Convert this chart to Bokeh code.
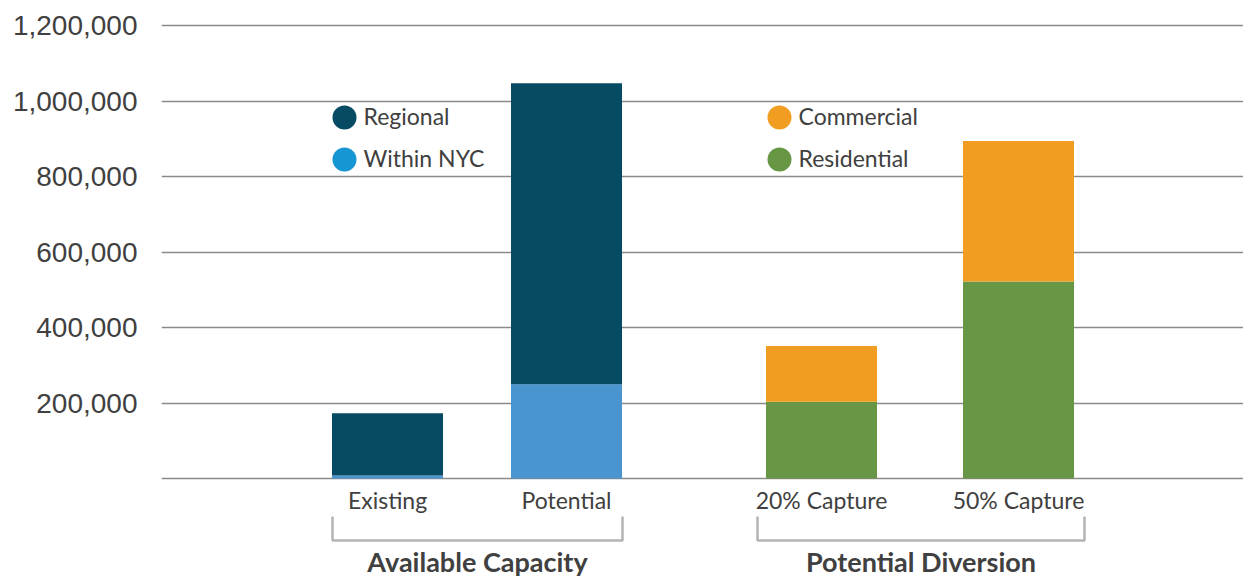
from bokeh.plotting import figure
from bokeh.models import Range1d, FixedTicker, NumeralTickFormatter
from bokeh.core.properties import value
from bokeh.embed import file_html
from bokeh.resources import INLINE

# ---- data ----
categories = ["Existing", "Potential", "20% Capture", "50% Capture"]
groups = ["Available Capacity", "Potential Diversion"]
within_nyc = [8000, 250000, 0, 0]
regional = [165000, 797000, 0, 0]
residential = [0, 0, 203000, 522000]
commercial = [0, 0, 148000, 372000]
y_ticks = [0, 200000, 400000, 600000, 800000, 1000000, 1200000]
leg_names = ["Regional", "Within NYC", "Commercial", "Residential"]

# ---- layout (x in picture-pixel units) ----
x_centers = [387, 566, 821, 1018]
bar_width = 111
bracket_spans = [(332, 622), (757, 1084)]

C_REG = "#064A63"
C_NYC_BAR = "#4A94D0"
C_NYC_LEG = "#1796D4"
C_COM = "#F09D22"
C_RES = "#679645"
TXT = "#404040"

W, H = 1243, 577
FRAME_LEFT = 161
px_per_unit = 377.5 / 1e6
zero_y_fig = 478
y_top = zero_y_fig / px_per_unit
y_bot = -(H - zero_y_fig) / px_per_unit

p = figure(width=W, height=H, output_backend="svg", toolbar_location=None,
           x_range=Range1d(FRAME_LEFT, W),
           y_range=Range1d(y_bot, y_top),
           min_border_left=FRAME_LEFT, min_border_right=0,
           min_border_top=0, min_border_bottom=0)
p.outline_line_color = None
p.xaxis.visible = False
p.xgrid.visible = False

ax = p.yaxis[0]
ax.ticker = FixedTicker(ticks=y_ticks)
ax.formatter = NumeralTickFormatter(format="0,0")
ax.major_label_overrides = {0: ""}
ax.axis_line_color = None
ax.major_tick_line_color = None
ax.minor_tick_line_color = None
ax.major_label_standoff = 18
ax.major_label_text_font = "Liberation Sans"
ax.major_label_text_font_size = "28px"
ax.major_label_text_color = TXT

p.ygrid.ticker = FixedTicker(ticks=y_ticks)
p.ygrid.grid_line_color = "#8a8a8a"
p.ygrid.grid_line_width = 1.5

# bars
p.vbar(x=x_centers[:2], width=bar_width, bottom=[0, 0], top=within_nyc[:2],
       fill_color=C_NYC_BAR, line_color=None)
p.vbar(x=x_centers[:2], width=bar_width, bottom=within_nyc[:2],
       top=[a + b for a, b in zip(within_nyc[:2], regional[:2])],
       fill_color=C_REG, line_color=None)
p.vbar(x=x_centers[2:], width=bar_width, bottom=[0, 0], top=residential[2:],
       fill_color=C_RES, line_color=None)
p.vbar(x=x_centers[2:], width=bar_width, bottom=residential[2:],
       top=[a + b for a, b in zip(residential[2:], commercial[2:])],
       fill_color=C_COM, line_color=None)

def yv(pix_y):
    return (zero_y_fig - pix_y) / px_per_unit

# category labels
p.text(x=x_centers, y=[yv(499)] * 4, text=categories,
       text_font=value("Lato"), text_font_size="23px", text_color=TXT,
       text_align="center", text_baseline="middle")

# brackets
for (x0, x1) in bracket_spans:
    p.line(x=[x0, x0, x1, x1], y=[yv(516), yv(540), yv(540), yv(516)],
           line_color="#b4b4b4", line_width=2.5)

# group labels
p.text(x=[(a + b) / 2 for a, b in bracket_spans], y=[yv(577)] * 2, text=groups,
       text_font=value("Lato"), text_font_size="27px", text_font_style="bold",
       text_color=TXT, text_align="center", text_baseline="bottom")

# legends
leg_colors = [C_REG, C_NYC_LEG, C_COM, C_RES]
leg_x = [344, 344, 779, 779]
leg_y = [117, 159, 117, 159]
p.scatter(x=leg_x, y=[yv(v) for v in leg_y], size=24, fill_color=leg_colors,
          line_color=None, marker="circle")
p.text(x=[v + 19 for v in leg_x], y=[yv(v - 2) for v in leg_y], text=leg_names,
       text_font=value("Lato"), text_font_size="23px", text_color=TXT,
       text_align="left", text_baseline="middle")

open("out.html", "w").write(file_html(p, INLINE))
